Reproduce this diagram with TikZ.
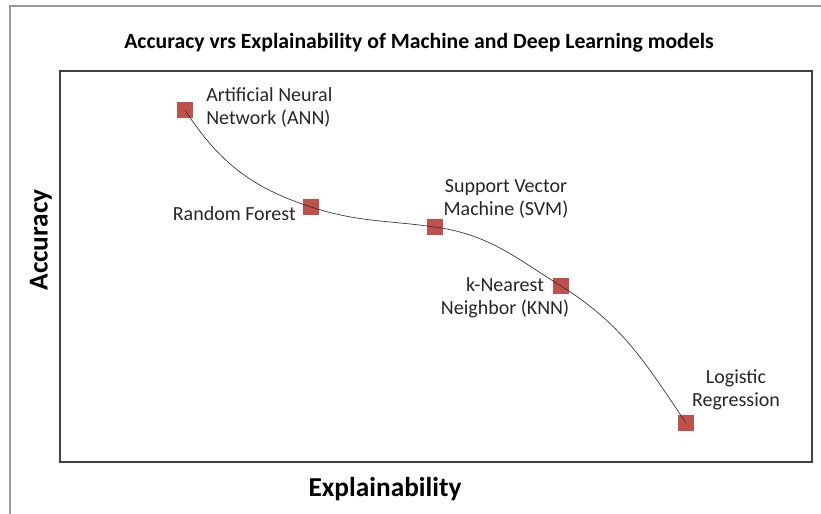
\documentclass[tikz,border=0pt]{standalone}
\usepackage{fontspec}
\setmainfont{Carlito}
\usetikzlibrary{positioning}
\definecolor{markred}{HTML}{C0504D}
\definecolor{framegray}{HTML}{999999}

\tikzset{
  markbox/.style={rectangle, fill=markred, minimum size=12pt, inner sep=0pt},
  modellabel/.style={font=\fontsize{15}{17.3}\selectfont, text=black!85, inner sep=0pt},
  axislabel/.style={font=\fontsize{20.5}{24}\selectfont\bfseries, inner sep=0pt},
}

\begin{document}
\begin{tikzpicture}[x=0.75pt, y=-0.75pt]
\useasboundingbox (0,0) rectangle (821,514);
% outer frame, only left and top edges show
\draw[framegray, line width=1.5pt] (10,514) -- (10,6) -- (821,6);
% plot area
\draw[black!75, line width=0.9pt] (60,71) rectangle (812,462);

\node[font=\fontsize{16.3}{19}\selectfont\bfseries, inner sep=0pt] (title) at (419,43)
  {Accuracy vrs Explainability of Machine and Deep Learning models};
\node[axislabel, rotate=90] (ylab) at (41,240) {Accuracy};
\node[axislabel] (xlab) at (385,489) {Explainability};

% models
\node[markbox] (ann) at (185,110) {};
\node[markbox] (rf)  at (311,207) {};
\node[markbox] (svm) at (435,227) {};
\node[markbox] (knn) at (561,286) {};
\node[markbox] (lr)  at (686,423) {};

\draw[black!80, line width=0.5pt] (ann.center) to[out=-57, in=162] (rf.center)
  to[out=-18, in=172] (svm.center) to[out=-8, in=148] (knn.center)
  to[out=-32, in=124] (lr.center);

\node[modellabel, anchor=west, align=left] (annlab) at (206,107)
  {Artificial Neural\\Network (ANN)};
\node[modellabel, anchor=east] (rflab) at (296,214) {Random Forest};
\node[modellabel, align=center] (svmlab) at (506,199)
  {Support Vector\\Machine (SVM)};
\node[modellabel, align=center] (knnlab) at (505,298)
  {k-Nearest\\Neighbor (KNN)};
\node[modellabel, align=center] (lrlab) at (736,390)
  {Logistic\\Regression};
\end{tikzpicture}
\end{document}
